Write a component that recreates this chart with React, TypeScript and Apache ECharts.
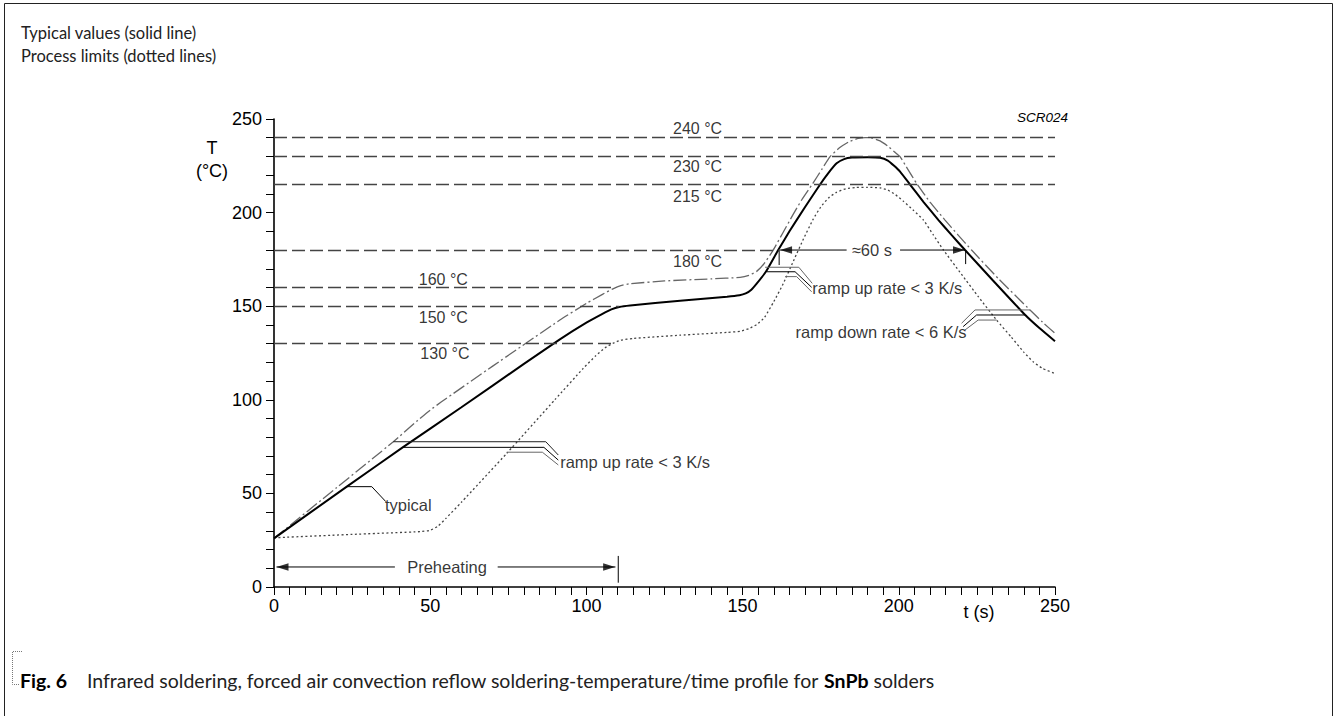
import React, { useEffect, useRef } from 'react';
import * as echarts from 'echarts';

// ---------- data (time in s, temperature in °C) ----------
const timeAxis = { min: 0, max: 250, step: 50 };
const tempAxis = { min: 0, max: 250, step: 50 };

const typicalProfile: [number, number][] = [
  [0, 26], [23.3, 53.6], [41.2, 74.6], [60, 96], [80, 119.2], [91.5, 132.3], [100, 141.2],
  [105, 145.8], [108, 148.3], [110.5, 149.6], [114, 150.4], [130, 152.9], [145, 155],
  [149, 155.8], [151, 156.8], [152.8, 158.8], [154.5, 162], [157.5, 168.5], [161.4, 180],
  [165, 190], [170, 203], [174.8, 215], [177.5, 221.2], [180.1, 226.3], [182.5, 228.6],
  [185, 229.4], [190, 229.6], [194, 229.3], [196.5, 227.8], [198.5, 225], [200.4, 221.9],
  [203.6, 215], [208, 205.5], [212.7, 196], [217, 187.8], [221.2, 180], [230, 164],
  [240.4, 145.4], [245, 138.3], [250, 131.3],
];

const upperLimit: [number, number][] = [
  [0, 26], [20, 53], [38.2, 77.6], [46, 89], [50, 94.5], [53.5, 98.8], [70, 118], [91.5, 142.6],
  [100, 151.5], [105, 156.2], [108.5, 159.3], [111, 161], [114, 162], [125, 163.5], [140, 164.6],
  [149.2, 165.4], [152, 166.5], [154.5, 168.6], [157, 173], [159.8, 180], [163, 189.5],
  [166, 198.5], [169, 207], [172.5, 215.6], [175.5, 223.5], [178, 229.9], [181, 234.6],
  [184, 237.8], [187, 239.6], [189.2, 240.1], [191.5, 239.8], [194, 238.3], [196.5, 235.5],
  [198.5, 232.6], [200.4, 229.9], [203, 222.8], [205.7, 215.6], [210, 205.6], [214.8, 196],
  [219, 188], [223.3, 180], [232, 164.5], [242, 148], [246, 141.5], [250, 135.5],
];

const lowerLimit: [number, number][] = [
  [0, 26.3], [25, 28.1], [47, 29.6], [50, 30.3], [52.5, 32.5], [55, 36.6], [60, 45.3],
  [74.5, 71.4], [90, 100.2], [99, 116.8], [103, 123.5], [106, 127.8], [108.5, 130.2],
  [111, 131.8], [115, 132.8], [130, 134.5], [145, 136], [149.2, 136.6], [152, 138],
  [154.5, 140.2], [157, 144], [160, 152.5], [163, 162], [166.5, 175], [169.5, 186],
  [172.6, 196.5], [175, 203], [177.5, 207.8], [180, 210.8], [183, 212.7], [186, 213.4],
  [190, 213.5], [194, 213.2], [196.5, 212], [199, 209.5], [201.5, 206], [204.5, 201.5],
  [207.9, 196], [211, 188.2], [214.3, 180], [220, 167.2], [225.5, 155], [231.3, 142.6],
  [236, 133.5], [240, 125.5], [243, 120.3], [246, 116.8], [250, 114],
];

// reference temperatures: [value, dashed line from t, to t]
const refTemps: [number, number, number][] = [
  [240, 0, 250], [230, 0, 250], [215, 0, 250], [180, 0, 161.7],
  [160, 0, 109.5], [150, 0, 110.5], [130, 0, 108.6],
];
const refLabels: [number, number, string][] = [
  [135.6, 244.7, '240 °C'], [135.6, 224.5, '230 °C'], [135.6, 208.5, '215 °C'],
  [135.6, 173.8, '180 °C'], [54.2, 164.5, '160 °C'], [54.2, 144.0, '150 °C'], [54.7, 124.5, '130 °C'],
];

const notes: [number, number, string, string][] = [
  [35.5, 43.8, 'typical', 'left'],
  [91.6, 66.6, 'ramp up rate < 3 K/s', 'left'],
  [172.3, 159.6, 'ramp up rate < 3 K/s', 'left'],
  [221.7, 136.1, 'ramp down rate < 6 K/s', 'right'],
  [55.4, 10.7, 'Preheating', 'center'],
  [191.4, 180, '\u224860 s', 'center'],
];

// leader lines: [points, colour]
const leaders: [[number, number][], string][] = [
  [[[23.3, 53.6], [31.3, 53.6], [35.8, 45.6]], '#000'],
  [[[38.2, 77.6], [87.0, 77.6], [91.0, 70.5]], '#222'],
  [[[41.2, 74.6], [86.4, 74.6], [91.0, 67.8]], '#000'],
  [[[74.5, 72.0], [85.9, 72.0], [91.0, 65.2]], '#666'],
  [[[157.2, 170.8], [168.0, 170.8], [172.3, 162.2]], '#666'],
  [[[157.7, 168.4], [166.8, 168.4], [172.1, 160.1]], '#000'],
  [[[163.6, 165.8], [167.3, 165.8], [172.1, 157.7]], '#666'],
  [[[242.0, 148.0], [224.4, 148.0], [220.1, 140.9]], '#666'],
  [[[240.4, 145.3], [224.9, 145.3], [220.6, 139.1]], '#000'],
  [[[231.3, 142.6], [225.4, 142.6], [221.2, 137.3]], '#666'],
];

// dimension arrows (shafts, ticks, heads)
const shafts: [number, number][][] = [
  [[0.8, 10.7], [38.7, 10.7]],
  [[71.6, 10.7], [109.3, 10.7]],
  [[162, 180], [183.3, 180]],
  [[200.4, 180], [221.2, 180]],
  [[110.2, 2.3], [110.2, 16.6]],
  [[161.7, 180], [161.7, 172]],
  [[221.4, 180], [221.4, 172.5]],
];
const arrowHeads: [number, number, string][] = [
  [0.8, 10.7, 'left'], [109.2, 10.7, 'right'], [162, 180, 'left'], [221.2, 180, 'right'],
];

const CHART_FONT = '"Liberation Sans", Arial, sans-serif';
const NOTE_FONT = 'Lato, "Open Sans", sans-serif';

function buildOption() {
  const series: any[] = [];

  series.push({
    type: 'line', data: [], silent: true, z: 1,
    markLine: {
      silent: true, symbol: ['none', 'none'], label: { show: false },
      lineStyle: { type: [13, 5], color: '#444', width: 1.3 },
      emphasis: { disabled: true },
      data: refTemps.map(([v, a, b]) => [{ coord: [a, v] }, { coord: [b, v] }]),
    },
  });

  series.push({
    type: 'line', data: lowerLimit, smooth: 0.15, showSymbol: false,
    silent: true, z: 3, lineStyle: { color: '#444', width: 1.3, type: [2, 2.5] },
  });
  series.push({
    type: 'line', data: upperLimit, smooth: 0.15, showSymbol: false,
    silent: true, z: 3, lineStyle: { color: '#666', width: 1.3, type: [13, 3, 2, 3] },
  });
  series.push({
    type: 'line', data: typicalProfile, smooth: 0.15, showSymbol: false,
    silent: true, z: 4, lineStyle: { color: '#000', width: 2 },
  });

  leaders.forEach(([pts, color]) => {
    series.push({
      type: 'line', data: pts, showSymbol: false, silent: true, z: 5,
      lineStyle: { color, width: 1 },
    });
  });

  shafts.forEach((pts) => {
    series.push({
      type: 'line', data: pts, showSymbol: false, silent: true, z: 5,
      lineStyle: { color: '#000', width: 1 },
    });
  });

  series.push({
    type: 'scatter', silent: true, z: 6, clip: false,
    symbol: 'triangle', symbolSize: [7.5, 12],
    itemStyle: { color: '#000' },
    emphasis: { disabled: true },
    data: arrowHeads.map(([t, T, dir]) => ({
      value: [t, T],
      symbolRotate: dir === 'left' ? 90 : -90,
      symbolOffset: dir === 'left' ? [6, 0] : [-6, 0],
    })),
  });

  const textItem = (t: number, T: number, text: string, align: string) => ({
    value: [t, T],
    label: { formatter: text, align },
  });

  series.push({
    type: 'scatter', silent: true, z: 7, clip: false, symbolSize: 1,
    itemStyle: { color: 'rgba(0,0,0,0)' },
    emphasis: { disabled: true },
    label: {
      show: true, position: 'inside', color: '#000', fontSize: 16, fontFamily: CHART_FONT,
      verticalAlign: 'middle',
    },
    data: refLabels.map(([t, T, s]) => textItem(t, T, s, 'center')),
  });

  series.push({
    type: 'scatter', silent: true, z: 7, clip: false, symbolSize: 1,
    itemStyle: { color: 'rgba(0,0,0,0)' },
    emphasis: { disabled: true },
    label: {
      show: true, position: 'inside', color: '#000', fontSize: 16.5, fontFamily: CHART_FONT,
      verticalAlign: 'middle',
    },
    data: notes.map(([t, T, s, a]) => textItem(t, T, s, a)),
  });

  const axisCommon = {
    type: 'value',
    axisLine: { show: true, onZero: false, lineStyle: { color: '#000', width: 1.6 } },
    axisTick: { show: true, inside: false, length: 8, lineStyle: { color: '#000', width: 1 } },
    splitLine: { show: false },
    minorSplitLine: { show: false },
  };

  const txt = (text: string, x: number, y: number, extra: any = {}) => ({
    type: 'text', silent: true,
    style: {
      text, x, y, fill: '#000', fontSize: 18, fontFamily: CHART_FONT,
      align: 'center', verticalAlign: 'middle', textAlign: 'center', textVerticalAlign: 'middle',
      ...extra,
    },
  });

  return {
    animation: false,
    backgroundColor: '#fff',
    grid: { left: 274, right: 283, top: 119, bottom: 129, containLabel: false },
    xAxis: {
      ...axisCommon,
      min: timeAxis.min, max: timeAxis.max, interval: timeAxis.step,
      minorTick: { show: true, splitNumber: 10, length: 8, lineStyle: { color: '#000', width: 1 } },
      axisLabel: { color: '#000', fontSize: 18, fontFamily: CHART_FONT, margin: 10 },
    },
    yAxis: {
      ...axisCommon,
      min: tempAxis.min, max: tempAxis.max, interval: tempAxis.step,
      minorTick: { show: true, splitNumber: 5, length: 8, lineStyle: { color: '#000', width: 1 } },
      axisLabel: { color: '#000', fontSize: 18, fontFamily: CHART_FONT, margin: 12 },
    },
    series,
    graphic: [
      {
        type: 'polyline', silent: true,
        shape: { points: [[4.5, 716], [4.5, 3.5], [1332.5, 3.5], [1332.5, 716]] },
        style: { stroke: '#222', lineWidth: 1, fill: 'none' },
      },
      {
        type: 'polyline', silent: true,
        shape: { points: [[22, 651.5], [12.5, 651.5], [12.5, 684.5], [20, 684.5]] },
        style: { stroke: '#777', lineWidth: 1, lineDash: [1, 1], fill: 'none' },
      },
      txt('Typical values (solid line)', 21, 32.5, {
        align: 'left', textAlign: 'left', fontFamily: NOTE_FONT, fontSize: 16.5, fill: '#222',
      }),
      txt('Process limits (dotted lines)', 21, 56, {
        align: 'left', textAlign: 'left', fontFamily: NOTE_FONT, fontSize: 16.5, fill: '#222',
      }),
      txt('{b|Fig. 6}    Infrared soldering, forced air convection reflow soldering-temperature/time profile for {b|SnPb} solders', 20, 680, {
        align: 'left', textAlign: 'left', fontFamily: NOTE_FONT, fontSize: 19.5, fill: '#222',
        rich: {
          b: { fontFamily: NOTE_FONT, fontSize: 19.5, fontWeight: 'bold', fill: '#000' },
        },
      }),
      txt('T', 212, 148),
      txt('(°C)', 212, 170.5),
      txt('t (s)', 979, 612),
      txt('SCR024', 1068, 117, { align: 'right', textAlign: 'right', fontSize: 13.5, fontStyle: 'italic' }),
    ],
  };
}

export default function App() {
  const ref = useRef<HTMLDivElement>(null);
  useEffect(() => {
    if (!ref.current) return;
    const chart = echarts.init(ref.current, null, { renderer: 'svg' });
    chart.setOption(buildOption());
    return () => chart.dispose();
  }, []);
  return (
    <div
      ref={ref}
      style={{ position: 'absolute', left: 0, top: 0, width: 1338, height: 716, background: '#fff' }}
    />
  );
}
